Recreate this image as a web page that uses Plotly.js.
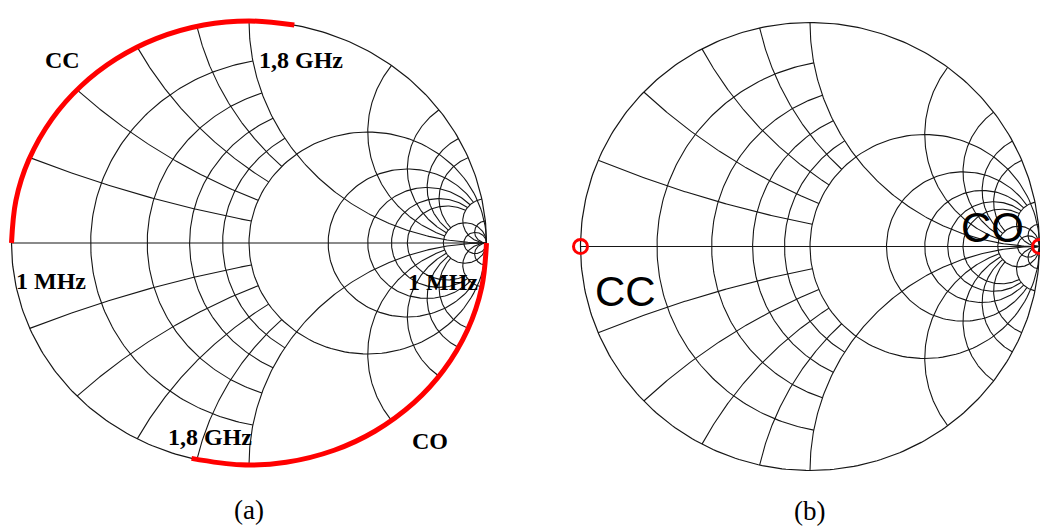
<!DOCTYPE html>
<html><head><meta charset="utf-8">
<script src="https://cdn.plot.ly/plotly-3.0.1.min.js"></script>
<style>html,body{margin:0;padding:0;background:#fff}#chart{width:1040px;height:529px}</style>
</head><body><div id="chart"></div>
<script>
// ---- Smith chart grid values (segmented grid) ----
const rCircles = [0.2, 0.4, 0.6, 0.8, 1, 2, 3, 4, 5, 10, 20];
const rLimits  = [1, 1, 1, 1, Infinity, 10, 10, 10, 10, Infinity, Infinity];
const xArcs    = [0.2, 0.4, 0.6, 0.8, 1, 2, 3, 4, 5, 10, 20];
const xLimits  = [1, 1, 1, 1, Infinity, 10, 10, 10, 10, Infinity, Infinity];

// ---- (a) sweeps 1 MHz -> 1.8 GHz : |Gamma| and phase (deg) ----
const sweepFreqMHz = [1, 200, 400, 600, 800, 1000, 1200, 1400, 1600, 1800];
const ccMag   = [1, 1, 1, 1, 1, 1, 1, 1, 1, 1];
const ccPhase = [180, 169, 158, 146, 135, 124, 113, 101, 90, 79];
const coMag   = [1, 1, 1, 1, 1, 1, 1, 1, 1, 1];
const coPhase = [0, -11.5, -23, -35, -46, -58, -69, -81, -92, -104];

// ---- (b) single points ----
const bNames = ['CC', 'CO'];
const bMag   = [1, 1];
const bPhase = [180, 0];

// ---- helpers ----
function gamma(r, x) {
  const nr = r - 1, ni = x, dr = r + 1, di = x;
  const den = dr * dr + di * di;
  return [(nr * dr + ni * di) / den, (ni * dr - nr * di) / den];
}
const N = 160;
function gridPath() {
  const X = [], Y = [];
  rCircles.forEach((r, k) => {
    const L = rLimits[k];
    const c = r / (1 + r), rho = 1 / (1 + r);
    let a = 0;
    if (isFinite(L)) { const g = gamma(r, L); a = Math.atan2(g[1], g[0] - c); }
    for (let i = 0; i <= N; i++) {
      const t = a + (2 * Math.PI - 2 * a) * i / N;
      X.push(c + rho * Math.cos(t)); Y.push(rho * Math.sin(t));
    }
    X.push(null); Y.push(null);
  });
  xArcs.forEach((x, k) => {
    const L = xLimits[k];
    const cy = 1 / x, rho = 1 / x;
    const g0 = gamma(0, x);
    let a0 = Math.atan2(g0[1] - cy, g0[0] - 1); if (a0 < 0) a0 += 2 * Math.PI;
    let a1 = 1.5 * Math.PI;
    if (isFinite(L)) { const g1 = gamma(L, x); a1 = Math.atan2(g1[1] - cy, g1[0] - 1); if (a1 < 0) a1 += 2 * Math.PI; }
    [1, -1].forEach(s => {
      for (let i = 0; i <= N; i++) {
        const t = a0 + (a1 - a0) * i / N;
        X.push(1 + rho * Math.cos(t)); Y.push(s * (cy + rho * Math.sin(t)));
      }
      X.push(null); Y.push(null);
    });
  });
  X.push(-1, 1, null); Y.push(0, 0, null);
  return [X, Y];
}
function circlePath() {
  const X = [], Y = [];
  for (let i = 0; i <= 360; i++) { const t = i * Math.PI / 180; X.push(Math.cos(t)); Y.push(Math.sin(t)); }
  return [X, Y];
}
const toXY = (m, p) => [m.map((v, i) => v * Math.cos(p[i] * Math.PI / 180)), m.map((v, i) => v * Math.sin(p[i] * Math.PI / 180))];

const [gx, gy] = gridPath();
const [ox, oy] = circlePath();
const [ccx, ccy] = toXY(ccMag, ccPhase);
const [cox, coy] = toXY(coMag, coPhase);
const [bx, by] = toXY(bMag, bPhase);

const gridLine = {color: '#161616', width: 1.1};
const traces = [
  {type: 'scatter', mode: 'lines', x: gx, y: gy, xaxis: 'x', yaxis: 'y', line: gridLine, hoverinfo: 'skip'},
  {type: 'scatter', mode: 'lines', x: ox, y: oy, xaxis: 'x', yaxis: 'y', line: {color: '#161616', width: 1.2}, hoverinfo: 'skip'},
  {type: 'scatter', mode: 'lines', name: 'CC', x: ccx, y: ccy, xaxis: 'x', yaxis: 'y', line: {color: '#ff0000', width: 5, shape: 'spline'}, customdata: sweepFreqMHz},
  {type: 'scatter', mode: 'lines', name: 'CO', x: cox, y: coy, xaxis: 'x', yaxis: 'y', line: {color: '#ff0000', width: 5, shape: 'spline'}, customdata: sweepFreqMHz},
  {type: 'scatter', mode: 'lines', x: gx, y: gy, xaxis: 'x2', yaxis: 'y2', line: gridLine, hoverinfo: 'skip'},
  {type: 'scatter', mode: 'lines', x: ox, y: oy, xaxis: 'x2', yaxis: 'y2', line: {color: '#161616', width: 1.2}, hoverinfo: 'skip'},
  {type: 'scatter', mode: 'markers', x: bx, y: by, text: bNames, xaxis: 'x2', yaxis: 'y2', cliponaxis: false,
   marker: {symbol: 'circle-open', size: 14, color: '#ff0000', line: {width: 3, color: '#ff0000'}}}
];

// layout geometry (pixels)
const W = 1040, H = 529;
const A = {cx: 249, cy: 243, rx: 237.5, ry: 222};
const B = {cx: 810, cy: 246.5, rx: 229.5, ry: 224};
const pad = 1.04;
function xdom(g) { const lo = g.cx - g.rx * pad, hi = Math.min(W, g.cx + g.rx * pad); return {domain: [lo / W, hi / W], range: [-pad, (hi - g.cx) / g.rx]}; }
function ydom(g) { const top = g.cy - g.ry * pad, bot = g.cy + g.ry * pad; return {domain: [(H - bot) / H, (H - top) / H], range: [-pad, pad]}; }
const hid = {visible: false, showgrid: false, zeroline: false, fixedrange: true};
const xa = xdom(A), ya = ydom(A), xb = xdom(B), yb = ydom(B);

const serifB = {family: 'Liberation Serif, Times New Roman, serif', size: 24, color: '#000'};
const serif = {family: 'Liberation Serif, Times New Roman, serif', size: 27, color: '#000'};
const sans = {family: 'Liberation Sans, Arial, sans-serif', size: 42, color: '#000'};
const ann = (text, x, y, xref, yref, font) => ({text, x, y, xref, yref, showarrow: false, font, xanchor: 'center', yanchor: 'middle'});
const annotations = [
  ann('<b>CC</b>', -0.787, 0.825, 'x', 'y', serifB),
  ann('<b>1,8 GHz</b>', 0.217, 0.825, 'x', 'y', serifB),
  ann('<b>1 MHz</b>', -0.834, -0.17, 'x', 'y', serifB),
  ann('<b>1 MHz</b>', 0.815, -0.175, 'x', 'y', serifB),
  ann('<b>1,8 GHz</b>', -0.164, -0.872, 'x', 'y', serifB),
  ann('<b>CO</b>', 0.764, -0.89, 'x', 'y', serifB),
  ann('CC', -0.806, -0.2, 'x2', 'y2', sans),
  ann('CO', 0.795, 0.085, 'x2', 'y2', sans),
  ann('(a)', 249 / W, 1 - 510 / H, 'paper', 'paper', serif),
  ann('(b)', 809 / W, 1 - 511 / H, 'paper', 'paper', serif)
];

const layout = {
  width: W, height: H, margin: {l: 0, r: 0, t: 0, b: 0},
  paper_bgcolor: '#fff', plot_bgcolor: 'rgba(0,0,0,0)', showlegend: false,
  xaxis: Object.assign({}, hid, xa, {anchor: 'y'}),
  yaxis: Object.assign({}, hid, ya, {anchor: 'x'}),
  xaxis2: Object.assign({}, hid, xb, {anchor: 'y2'}),
  yaxis2: Object.assign({}, hid, yb, {anchor: 'x2'}),
  annotations
};
Plotly.newPlot('chart', traces, layout, {staticPlot: true, displayModeBar: false});
</script></body></html>
